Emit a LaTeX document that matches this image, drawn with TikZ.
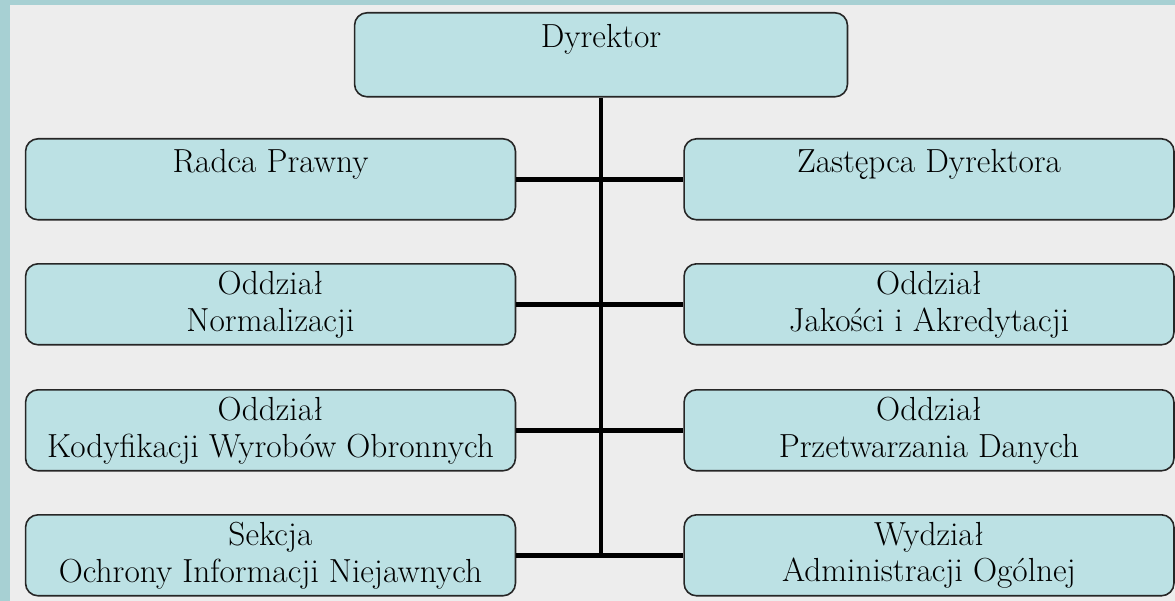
\documentclass[tikz,border=0pt]{standalone}
\usetikzlibrary{positioning}
\definecolor{frame}{HTML}{A7D0D3}
\definecolor{paper}{HTML}{EDEDED}
\definecolor{cell}{HTML}{BCE1E4}
\tikzset{
  unit/.style={draw=black!85, line width=0.9pt, fill=cell, rounded corners=0.25cm,
    minimum width=9.8cm, minimum height=1.62cm, align=center, inner sep=0pt,
    anchor=north, font=\fontsize{19}{21}\selectfont},
  link/.style={line width=2.8pt}
}
\newcommand*{\OrgRows}[1]{% #1 = list of n/top/left text/right text
  \foreach \n/\y/\ltxt/\rtxt in {#1} {
    \node [unit] (l\n) at (270.5,\y) {\ltxt};
    \node [unit] (r\n) at (929,\y) {\rtxt};
  }%
}

\begin{document}
\begin{tikzpicture}[x=0.02cm, y=-0.02cm]
  \fill [frame] (0,0) rectangle (1175,601);
  \fill [paper] (10,5) rectangle (1175,601);
  \node [unit, minimum width=9.86cm, minimum height=1.68cm] (dyr) at (601,12) {Dyrektor\\\mbox{}};
  \OrgRows{1/138/{Radca Prawny\\\mbox{}}/{Zastępca Dyrektora\\\mbox{}},
    2/263/{Oddział\\Normalizacji}/{Oddział\\Jakości i Akredytacji},
    3/389/{Oddział\\Kodyfikacji Wyrobów Obronnych}/{Oddział\\Przetwarzania Danych},
    4/514/{Sekcja\\Ochrony Informacji Niejawnych}/{Wydział\\Administracji Ogólnej}}
  \draw [link] (dyr.south) -- (dyr.south |- l4.east);
  \foreach \n in {1,...,4}
    \draw [link] (l\n.east) -- (r\n.west);
\end{tikzpicture}
\end{document}
